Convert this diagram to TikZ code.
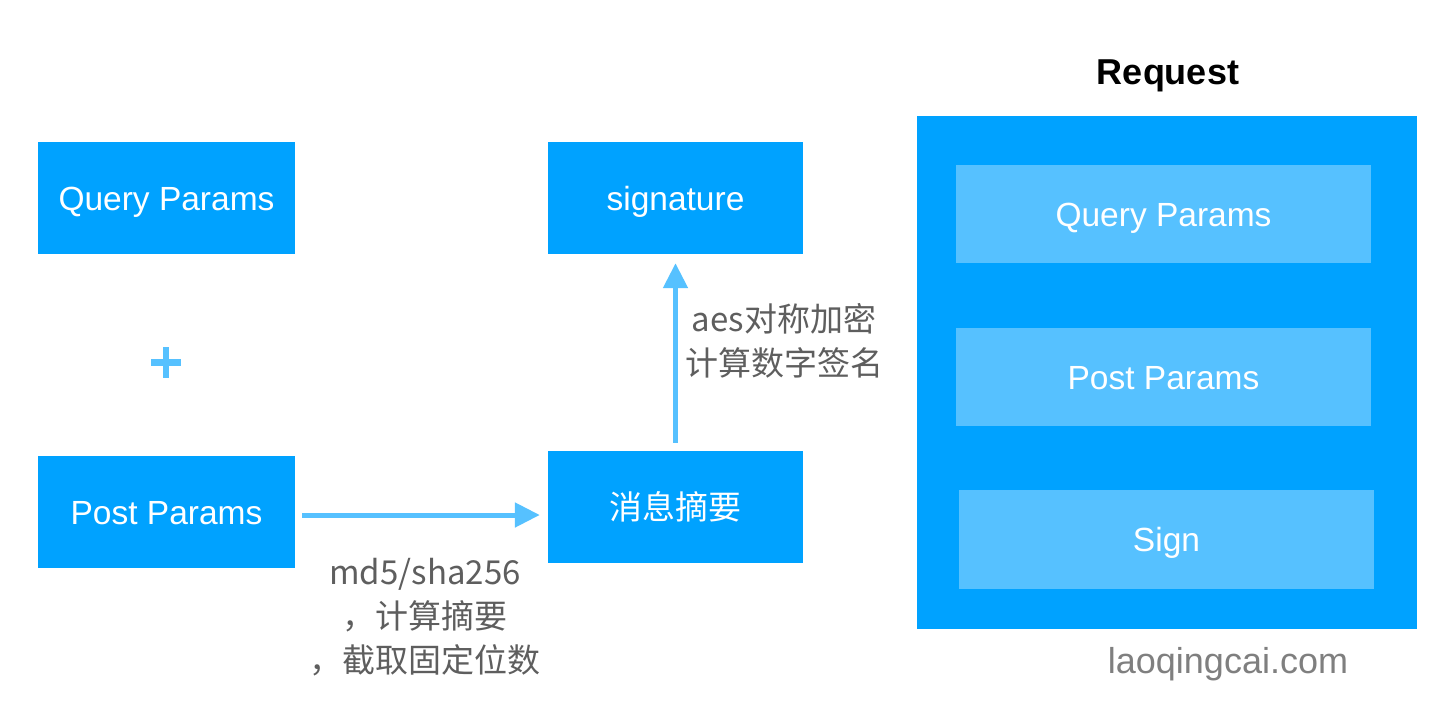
\documentclass[tikz,border=0pt]{standalone}
\usepackage{fontspec}
\setmainfont{Liberation Sans}
\newfontfamily\cjk{Noto Sans CJK SC}
\usetikzlibrary{arrows.meta,calc}
\definecolor{boxblue}{HTML}{00A2FF}
\definecolor{lightblue}{HTML}{56C1FF}
\definecolor{txtgrey}{HTML}{5E5E5E}
\definecolor{wmgrey}{HTML}{7F7F7F}
\begin{document}
\begin{tikzpicture}[x=1pt,y=-1pt,
  box/.style={fill=boxblue, text=white, inner sep=0pt, text height=24pt, text depth=0pt, font=\fontsize{33.5}{38}\selectfont},
  innerbox/.style={fill=lightblue, text=white, inner sep=0pt, text height=24pt, text depth=0pt, minimum width=415pt, minimum height=98pt, font=\fontsize{33.5}{38}\selectfont},
  arr/.style={draw=lightblue, line width=5pt, -{Triangle[length=25pt,width=24pt]}},
  lbl/.style={text=txtgrey, align=center, inner sep=0pt, font=\cjk\fontsize{33}{44}\selectfont}
]
\useasboundingbox (0,0) rectangle (1452,704);
\fill[white] (0,0) rectangle (1452,704);

% left boxes
\node[box, minimum width=257pt, minimum height=112pt] (qp) at (166.5,198) {Query Params};
\node[box, minimum width=257pt, minimum height=112pt] (pp) at (166.5,512) {Post Params};

% plus
\draw[lightblue, line width=6.5pt] (151,362.5) -- (181,362.5);
\draw[lightblue, line width=6.5pt] (166,347) -- (166,378);

% middle boxes
\node[box, minimum width=255pt, minimum height=112pt] (sig) at (675.5,198) {signature};
\node[box, minimum width=255pt, minimum height=112pt, text height=25pt, font=\cjk\fontsize{33}{38}\selectfont] (dig) at (675.5,507) {消息摘要};

% arrows
\coordinate (hy) at (0,515);
\draw[arr, shorten <=7pt, shorten >=8pt] (pp.east |- hy) -- (dig.west |- hy);
\draw[arr, shorten <=8pt, shorten >=9pt] (dig.north) -- (sig.south);

% labels
\node[lbl] (l1) at (425,617) {md5/sha256\\，计算摘要\\，截取固定位数};
\node[lbl] (l2) at (784,341) {aes对称加密\\计算数字签名};

% request
\node[font=\bfseries\fontsize{36}{40}\selectfont, inner sep=0pt, text height=25.8pt, text depth=0pt] (rt) at (1168,72) {Request};
\node[fill=boxblue, minimum width=500pt, minimum height=513pt, inner sep=0pt] (req) at (1167,372.5) {};
\node[innerbox] (iq) at (1163.5,214) {Query Params};
\node[innerbox] (ip) at (1163.5,377) {Post Params};
\node[innerbox, minimum height=99pt] (is) at (1166.5,539.5) {Sign};

\node[text=wmgrey, font=\fontsize{36}{40}\selectfont, inner sep=0pt] (wm) at (1228,664) {laoqingcai.com};
\end{tikzpicture}
\end{document}
